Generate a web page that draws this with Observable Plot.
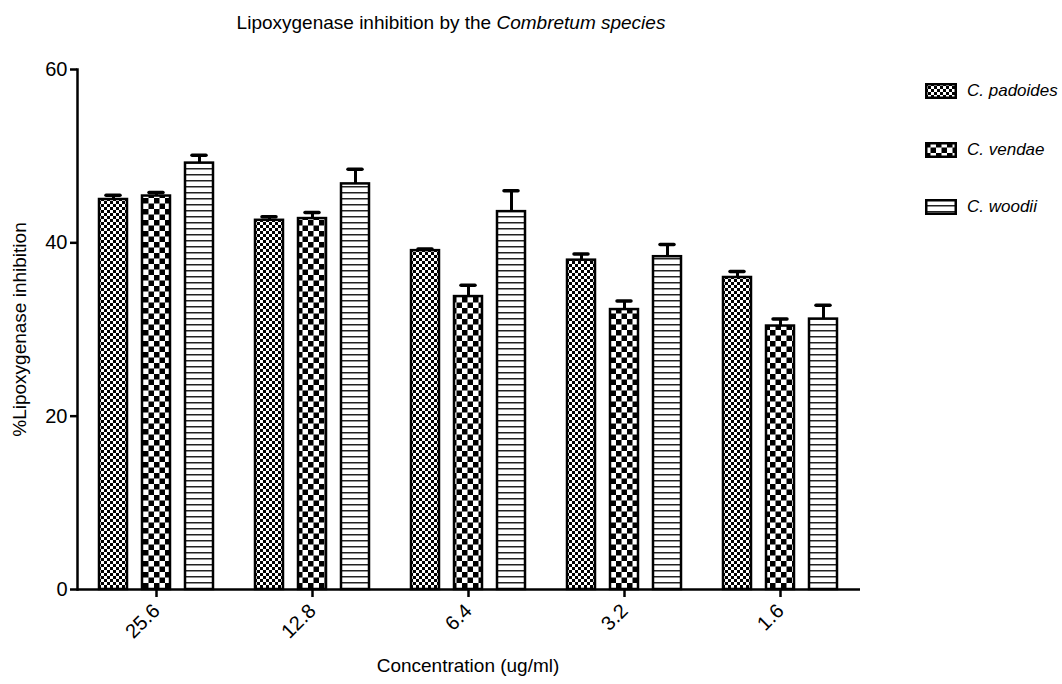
<!DOCTYPE html>
<html>
<head>
<meta charset="utf-8">
<script src="https://cdn.jsdelivr.net/npm/d3@7"></script>
<script src="https://cdn.jsdelivr.net/npm/@observablehq/plot@0.6"></script>
<style>
  html, body { margin: 0; padding: 0; background: white; }
  #wrap { position: relative; width: 1062px; height: 684px; font-family: "Liberation Sans", Arial, sans-serif; color: black; background: white; }
  #title { position: absolute; z-index: 5; left: 451px; top: 12px; transform: translateX(-50%); font-size: 19px; white-space: nowrap; }
  .leg { position: absolute; z-index: 5; left: 925px; display: flex; align-items: center; font-size: 17px; font-style: italic; white-space: nowrap; }
  .leg svg { margin-right: 10px; }
</style>
</head>
<body>
<svg width="0" height="0" style="position:absolute">
  <defs>
    <pattern id="pat0" patternUnits="userSpaceOnUse" width="6" height="6">
      <rect width="6" height="6" fill="white"/>
      <rect x="0" y="0" width="3" height="3" fill="black"/>
      <rect x="3" y="3" width="3" height="3" fill="black"/>
    </pattern>
    <pattern id="pat1" patternUnits="userSpaceOnUse" width="11" height="11">
      <rect width="11" height="11" fill="white"/>
      <rect x="0" y="0" width="5.5" height="5.5" fill="black"/>
      <rect x="5.5" y="5.5" width="5.5" height="5.5" fill="black"/>
    </pattern>
    <pattern id="pat2" patternUnits="userSpaceOnUse" width="6" height="6">
      <rect width="6" height="6" fill="white"/>
      <rect x="0" y="0" width="6" height="1.5" fill="#222"/>
    </pattern>
  </defs>
</svg>
<div id="wrap">
  <div id="title">Lipoxygenase inhibition by the <i>Combretum species</i></div>
</div>
<script>
const concentrations = ["25.6", "12.8", "6.4", "3.2", "1.6"];
const species = ["C. padoides", "C. vendae", "C. woodii"];
const padoides = [45.0, 42.6, 39.1, 38.0, 36.0];
const padoidesErr = [0.5, 0.4, 0.2, 0.7, 0.7];
const vendae = [45.4, 42.8, 33.8, 32.3, 30.4];
const vendaeErr = [0.4, 0.7, 1.3, 1.0, 0.8];
const woodii = [49.2, 46.8, 43.6, 38.4, 31.2];
const woodiiErr = [0.9, 1.7, 2.4, 1.4, 1.6];
const yTicks = [0, 20, 40, 60];
const xLabel = "Concentration (ug/ml)";
const yLabel = "%Lipoxygenase inhibition";

const seriesValues = [padoides, vendae, woodii];
const seriesErrs = [padoidesErr, vendaeErr, woodiiErr];
const rows = [];
species.forEach((s, i) => {
  concentrations.forEach((c, j) => {
    rows.push({species: s, si: i, conc: c, value: seriesValues[i][j], err: seriesErrs[i][j]});
  });
});

const step = 43;
const marks = [];
species.forEach((s, i) => {
  const data = rows.filter(d => d.si === i);
  const dx = (i - 1) * step;
  marks.push(Plot.ruleX(data, {x: "conc", y1: "value", y2: d => d.value + d.err, dx, stroke: "black", strokeWidth: 3}));
  marks.push(Plot.tickY(data, {x: "conc", y: d => d.value + d.err, dx, insetLeft: 71, insetRight: 71, stroke: "black", strokeWidth: 3.5, strokeLinecap: "round"}));
  marks.push(Plot.barY(data, {x: "conc", y: "value", dx, insetLeft: 64, insetRight: 64, fill: `url(#pat${i})`, stroke: "black", strokeWidth: 2.5}));
});

const chart = Plot.plot({
  width: 1062,
  height: 684,
  marginLeft: 77,
  marginRight: 204,
  marginTop: 69,
  marginBottom: 95,
  style: {fontFamily: "'Liberation Sans', Arial, sans-serif", fontSize: "20px", background: "transparent", color: "black", overflow: "visible"},
  x: {type: "band", domain: concentrations, paddingInner: 0, paddingOuter: 0, label: null},
  y: {domain: [0, 60], label: null},
  marks: [
    ...marks,
    Plot.ruleY([0], {stroke: "black", strokeWidth: 2.5, insetRight: -2}),
    Plot.frame({anchor: "left", stroke: "black", strokeWidth: 2.5}),
    Plot.axisY({ticks: yTicks, tickSize: 7, tickPadding: 3, strokeWidth: 2.5, fontSize: 20, label: null}),
    Plot.axisX({tickSize: 8, tickRotate: -45, tickPadding: 10, strokeWidth: 2.5, fontSize: 20, label: null}),
    Plot.text([xLabel], {text: d => d, frameAnchor: "bottom", dy: 82, fontSize: 19}),
    Plot.text([yLabel], {text: d => d, frameAnchor: "left", textAnchor: "middle", dx: -58, rotate: -90, fontSize: 19})
  ]
});
const wrap = document.getElementById("wrap");
chart.style.position = "absolute";
chart.style.left = "0px";
chart.style.top = "0px";
wrap.appendChild(chart);

const legendTops = [92, 151, 208];
species.forEach((s, i) => {
  const el = document.createElement("div");
  el.className = "leg";
  el.style.top = (legendTops[i] - 11) + "px";
  el.innerHTML = `<svg width="32" height="16"><rect x="1.25" y="1.25" width="29.5" height="13.5" fill="url(#pat${i})" stroke="black" stroke-width="2.5"/></svg><span>${s}</span>`;
  wrap.appendChild(el);
});
</script>
</body>
</html>
